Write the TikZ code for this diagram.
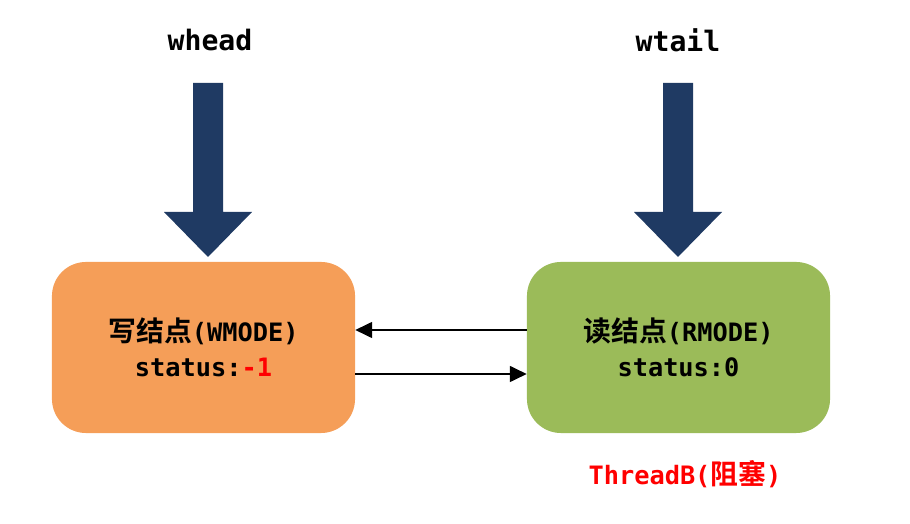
\documentclass[tikz,border=0pt]{standalone}
\usepackage{fontspec}
\setmonofont{DejaVu Sans Mono}
\newfontfamily\cjk{Noto Sans CJK SC}[BoldFont=Noto Sans CJK SC Bold, Scale=1.1]
\usetikzlibrary{arrows.meta}
\definecolor{wcolor}{HTML}{F59E58}
\definecolor{rcolor}{HTML}{9BBB59}
\definecolor{bigblue}{HTML}{1F3A63}
\tikzset{
  modebox/.style={rounded corners=0.85cm, minimum width=7.575cm, minimum height=4.275cm,
    align=center, font=\ttfamily\bfseries\fontsize{18}{25}\selectfont},
  ptrlabel/.style={font=\ttfamily\bfseries\fontsize{20}{24}\selectfont},
  link/.style={line width=0.9pt, -{Triangle[width=0.4cm, length=0.42cm]}}
}
\begin{document}
\begin{tikzpicture}[x=0.025cm, y=-0.025cm]
\useasboundingbox (0,0) rectangle (910,524);
\node[modebox, fill=wcolor] at (203.5,347.5) (wnode) {{\cjk\bfseries 写结点}(WMODE)\\status:\textcolor{red}{-1}};
\node[modebox, fill=rcolor] at (678.5,347.5) (rnode) {{\cjk\bfseries 读结点}(RMODE)\\status:0};
\node[ptrlabel] at (210,40) (whead) {whead};
\node[ptrlabel] at (678,40) (wtail) {wtail};
\node[font=\ttfamily\bfseries\fontsize{18}{22}\selectfont, text=red] at (685,474) (thread) {ThreadB({\cjk\bfseries 阻塞})};

% pointer arrows
\coordinate (wtop) at (208,83);
\coordinate (rtop) at (678,83);
\foreach \p in {wtop, rtop}
  \fill[bigblue] (\p) ++(-15,0) -- ++(0,129) -- ++(-29,0) -- ++(44,45)
    -- ++(44,-45) -- ++(-29,0) -- ++(0,-129) -- cycle;

\draw[link] (rnode.west |- 0,330) -- (wnode.east |- 0,330);
\draw[link] (wnode.east |- 0,374) -- (rnode.west |- 0,374);
\end{tikzpicture}
\end{document}
